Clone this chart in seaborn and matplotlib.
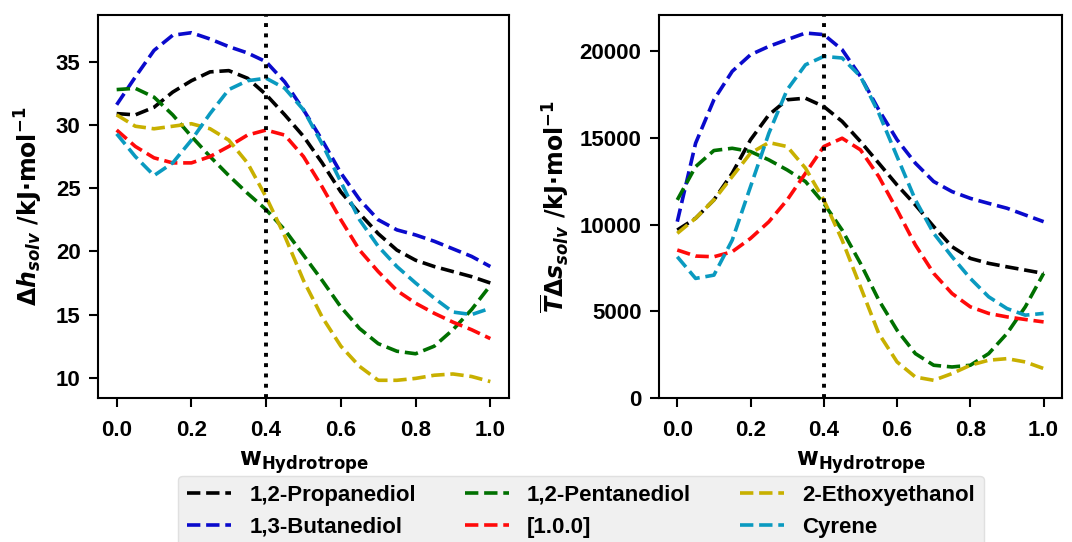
import matplotlib
matplotlib.use("Agg")
import matplotlib.pyplot as plt
import seaborn as sns
import pandas as pd

# hydrotrope mass fraction
w_hydro = [0.00, 0.05, 0.10, 0.15, 0.20, 0.25, 0.30, 0.35, 0.40, 0.45, 0.50,
           0.55, 0.60, 0.65, 0.70, 0.75, 0.80, 0.85, 0.90, 0.95, 1.00]

solvents = ["1,2-Propanediol", "1,3-Butanediol", "1,2-Pentanediol",
            "[1.0.0]", "2-Ethoxyethanol", "Cyrene"]

# colors per solvent
solvent_colors = {
    "1,2-Propanediol": "black",
    "1,3-Butanediol": "#0a0acc",
    "1,2-Pentanediol": "#007000",
    "[1.0.0]": "#ff0a0a",
    "2-Ethoxyethanol": "#c8b000",
    "Cyrene": "#0a9ac0",
}

# solvation enthalpy, kJ/mol
dh_propanediol = [30.9, 30.8, 31.4, 32.6, 33.5, 34.2, 34.3, 33.7, 32.4, 30.8, 29.1,
                  27.0, 24.7, 23.0, 21.4, 20.1, 19.3, 18.8, 18.4, 18.0, 17.5]
dh_butanediol = [31.6, 33.8, 35.9, 37.1, 37.3, 36.8, 36.2, 35.7, 35.0, 33.4, 31.2,
                 28.8, 26.2, 24.1, 22.5, 21.7, 21.3, 20.8, 20.2, 19.6, 18.8]
dh_pentanediol = [32.8, 32.9, 32.2, 30.8, 29.1, 27.5, 26.0, 24.6, 23.3, 21.7, 19.7,
                  17.7, 15.6, 13.9, 12.7, 12.1, 11.9, 12.5, 13.8, 15.4, 17.3]
dh_100 = [29.6, 28.3, 27.4, 27.0, 27.0, 27.5, 28.3, 29.2, 29.6, 29.2, 27.5,
          25.1, 22.5, 20.1, 18.4, 16.9, 15.9, 15.1, 14.4, 13.8, 13.1]
dh_ethoxyethanol = [30.8, 29.9, 29.7, 29.9, 30.1, 29.7, 28.8, 27.0, 24.3, 21.2, 17.7,
                    14.8, 12.5, 10.9, 9.8, 9.8, 9.95, 10.2, 10.3, 10.1, 9.7]
dh_cyrene = [29.3, 27.5, 26.0, 27.0, 28.8, 30.9, 32.8, 33.5, 33.7, 32.9, 31.2,
             28.5, 25.5, 22.5, 20.4, 18.8, 17.5, 16.3, 15.2, 15.0, 15.5]

# entropic term T*ds
tds_propanediol = [9690, 10370, 11430, 12970, 14900, 16340, 17210, 17300, 16820, 15960, 14800,
                   13550, 12290, 11140, 9890, 8730, 8055, 7770, 7570, 7380, 7190]
tds_butanediol = [10175, 14700, 17210, 18850, 19810, 20290, 20680, 21060, 20970, 20100, 18560,
                  16630, 14900, 13550, 12490, 11910, 11520, 11230, 10950, 10560, 10175]
tds_pentanediol = [11430, 13350, 14280, 14410, 14220, 13740, 13160, 12490, 11230, 9690, 7770,
                   5650, 3910, 2560, 1890, 1790, 1890, 2560, 3720, 5260, 7190]
tds_100 = [8540, 8190, 8150, 8440, 9210, 10170, 11430, 12970, 14510, 14990, 14320,
           12780, 10850, 8830, 7190, 6030, 5260, 4880, 4680, 4530, 4390]
tds_ethoxyethanol = [9500, 10370, 11430, 12780, 14130, 14740, 14510, 13260, 11430, 9110, 6420,
                     3720, 2080, 1210, 1020, 1410, 1890, 2180, 2270, 2080, 1700]
tds_cyrene = [8150, 6900, 7090, 9110, 12200, 15280, 17790, 19230, 19710, 19620, 18560,
              16440, 13930, 11430, 9500, 8150, 6900, 5840, 5160, 4780, 4880]

dh_values = [dh_propanediol, dh_butanediol, dh_pentanediol, dh_100, dh_ethoxyethanol, dh_cyrene]
tds_values = [tds_propanediol, tds_butanediol, tds_pentanediol, tds_100, tds_ethoxyethanol, tds_cyrene]

rows = []
for name, dh, tds in zip(solvents, dh_values, tds_values):
    for w, a, b in zip(w_hydro, dh, tds):
        rows.append({"w": w, "solvent": name, "dh": a, "tds": b})
df = pd.DataFrame(rows)

sns.set_style("ticks")
plt.rcParams["font.family"] = ["Liberation Sans", "DejaVu Sans"]
plt.rcParams["font.weight"] = "bold"
plt.rcParams["mathtext.fontset"] = "dejavusans"
for key in ["text.color", "axes.labelcolor", "xtick.color", "ytick.color"]:
    plt.rcParams[key] = "black"

fig = plt.figure(figsize=(10.72, 5.42), dpi=100)
ax1 = fig.add_axes([0.0914, 0.2657, 0.3834, 0.7066])
ax2 = fig.add_axes([0.6147, 0.2657, 0.3759, 0.7066])

for ax, col in [(ax1, "dh"), (ax2, "tds")]:
    for name in solvents:
        sub = df[df["solvent"] == name]
        sns.lineplot(data=sub, x="w", y=col, color=solvent_colors[name], label=name,
                     linestyle="--", linewidth=2.6, ax=ax)
    ax.axvline(0.4, color="black", linestyle=":", linewidth=2.8)
    if ax.get_legend():
        ax.get_legend().remove()
    ax.set_xlim(-0.05, 1.05)
    ax.set_xticks([0.0, 0.2, 0.4, 0.6, 0.8, 1.0])
    ax.set_xticklabels(["0.0", "0.2", "0.4", "0.6", "0.8", "1.0"])
    ax.tick_params(labelsize=16, width=1.5, length=6.5, pad=6, colors="black")
    ax.tick_params(axis="x", pad=9)
    for s in ax.spines.values():
        s.set_linewidth(1.5)
        s.set_color("black")
    ax.set_xlabel(r"$\mathbf{w}_{\mathbf{Hydrotrope}}$", fontsize=17, labelpad=6)

ax1.set_ylim(8.4, 38.7)
ax1.set_yticks([10, 15, 20, 25, 30, 35])
ax2.set_ylim(0, 22100)
ax2.set_yticks([0, 5000, 10000, 15000, 20000])

ax1.set_ylabel(r"$\boldsymbol{\Delta h}_{solv}$ /kJ·mol$^{\mathbf{-1}}$",
               fontsize=17, family="DejaVu Sans", fontweight="bold", labelpad=8)
ax2.set_ylabel(r"$\overline{\boldsymbol{T}}\boldsymbol{\Delta s}_{solv}$ /kJ·mol$^{\mathbf{-1}}$",
               fontsize=17, family="DejaVu Sans", fontweight="bold", labelpad=6)

handles, labels = ax1.get_legend_handles_labels()
fig.legend(handles[:6], labels[:6], loc="upper center", bbox_to_anchor=(0.542, 0.122),
           ncol=3, frameon=True, facecolor="#f0f0f0", edgecolor="#e0e0e0", framealpha=1,
           prop={"weight": "bold", "size": 16}, columnspacing=2.2, borderaxespad=0)

fig.savefig("out.png", dpi=100)
